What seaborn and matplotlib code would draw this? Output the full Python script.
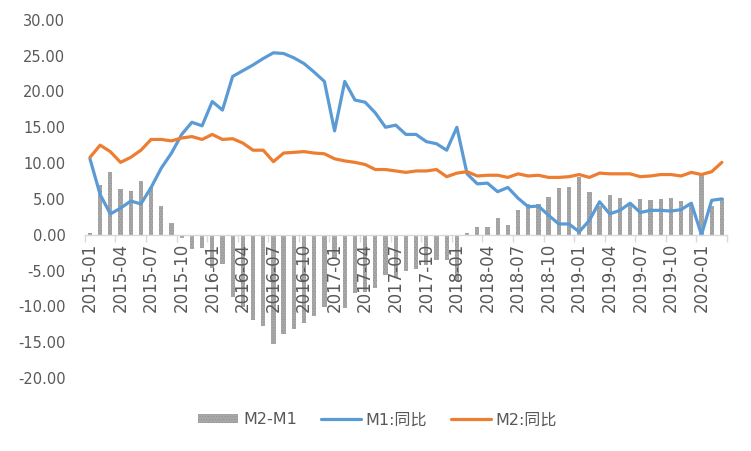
import pandas as pd
import matplotlib
matplotlib.use("Agg")
import matplotlib.pyplot as plt
import seaborn as sns
from matplotlib.patches import Patch
from matplotlib.lines import Line2D

# Mois 2015-01 .. 2020-03
months = [f"{y}-{m:02d}" for y in range(2015, 2021) for m in range(1, 13)][:63]

m1_yoy = [
    10.6, 5.6, 2.9, 3.7, 4.7, 4.3, 6.6, 9.3, 11.4, 14.0, 15.7, 15.2,
    18.6, 17.4, 22.1, 22.9, 23.7, 24.6, 25.4, 25.3, 24.7, 23.9, 22.7, 21.4,
    14.5, 21.4, 18.8, 18.5, 17.0, 15.0, 15.3, 14.0, 14.0, 13.0, 12.7, 11.8,
    15.0, 8.5, 7.1, 7.2, 6.0, 6.6, 5.1, 3.9, 4.0, 2.7, 1.5, 1.5,
    0.4, 2.0, 4.6, 2.9, 3.4, 4.4, 3.1, 3.4, 3.4, 3.3, 3.5, 4.4,
    0.0, 4.8, 5.0,
]
m2_yoy = [
    10.8, 12.5, 11.6, 10.1, 10.8, 11.8, 13.3, 13.3, 13.1, 13.5, 13.7, 13.3,
    14.0, 13.3, 13.4, 12.8, 11.8, 11.8, 10.2, 11.4, 11.5, 11.6, 11.4, 11.3,
    10.6, 10.3, 10.1, 9.8, 9.1, 9.1, 8.9, 8.7, 8.9, 8.9, 9.1, 8.1,
    8.6, 8.8, 8.2, 8.3, 8.3, 8.0, 8.5, 8.2, 8.3, 8.0, 8.0, 8.1,
    8.4, 8.0, 8.6, 8.5, 8.5, 8.5, 8.1, 8.2, 8.4, 8.4, 8.2, 8.7,
    8.4, 8.8, 10.1,
]
m2_m1 = [
    0.2, 6.9, 8.7, 6.4, 6.1, 7.5, 6.7, 4.0, 1.7, -0.5, -2.0, -1.9,
    -4.6, -4.1, -8.7, -10.1, -11.9, -12.8, -15.2, -13.9, -13.2, -12.3, -11.3, -10.1,
    -3.2, -10.3, -8.2, -8.0, -7.4, -5.6, -6.1, -5.1, -4.8, -4.2, -3.6, -3.6,
    -6.4, 0.3, 1.1, 1.1, 2.3, 1.4, 3.4, 4.3, 4.3, 5.3, 6.5, 6.6,
    8.0, 6.0, 4.0, 5.6, 5.1, 4.1, 5.0, 4.8, 5.0, 5.1, 4.7, 4.3,
    8.4, 4.0, 5.1,
]

y_ticks = [30, 25, 20, 15, 10, 5, 0, -5, -10, -15, -20]

BLUE = "#5B9BD5"
ORANGE = "#ED7D31"
GRAY = "#A8A8A8"
HATCH = "#939393"
TXT = "#595959"
AXIS = "#D9D9D9"

sns.set_theme(style="white")
plt.rcParams["font.family"] = ["DejaVu Sans", "Noto Sans CJK SC"]
plt.rcParams["axes.unicode_minus"] = False
plt.rcParams["hatch.linewidth"] = 0.5

df = pd.DataFrame({"mois": months, "idx": range(len(months)),
                   "M1": m1_yoy, "M2": m2_yoy, "M2-M1": m2_m1})

fig = plt.figure(figsize=(7.51, 4.51), dpi=100)
ax = fig.add_axes([0.113, 0.162, 0.855, 0.794])

sns.barplot(data=df, x="idx", y="M2-M1", color=GRAY, width=0.42,
            saturation=1, ax=ax, linewidth=0)
for p in ax.patches:
    p.set_hatch("......")
    p.set_edgecolor(HATCH)
    p.set_linewidth(0)

sns.lineplot(data=df, x="idx", y="M1", color=BLUE, linewidth=2.3, ax=ax)
sns.lineplot(data=df, x="idx", y="M2", color=ORANGE, linewidth=2.3, ax=ax)

# axe des x sur y = 0 (avant de régler les labels, set_position remet les ticks à zéro)
for s in ["top", "right", "left"]:
    ax.spines[s].set_visible(False)
ax.spines["bottom"].set_position(("data", 0))
ax.spines["bottom"].set_color(AXIS)
ax.spines["bottom"].set_linewidth(1)

ax.set_xlim(-0.5, 62.5)
ax.set_ylim(-20, 30)
ax.set_yticks(y_ticks)
ax.set_yticklabels([f"{v:.2f}" for v in y_ticks], fontsize=10.5, color=TXT)
ax.set_xticks(range(0, len(months), 3))
ax.set_xticklabels(months[::3], rotation=90, fontsize=12, color=TXT)
# petites marques entre les catégories, tous les 3 mois
ax.set_xticks([i - 0.5 for i in range(0, len(months) + 1, 3)], minor=True)
ax.set_xlabel("")
ax.set_ylabel("")
ax.tick_params(axis="x", which="major", bottom=True, length=0, pad=6)
ax.tick_params(axis="x", which="minor", bottom=True, length=5, width=1, color=AXIS)
ax.tick_params(axis="y", left=False, pad=8)
ax.grid(False)
ax.set_axisbelow(False)

handles = [
    Patch(facecolor=GRAY, hatch="......", edgecolor=HATCH, linewidth=0),
    Line2D([0], [0], color=BLUE, linewidth=2.3),
    Line2D([0], [0], color=ORANGE, linewidth=2.3),
]
labels = ["M2-M1", "M1:同比", "M2:同比"]
leg = fig.legend(handles, labels, loc="center", bbox_to_anchor=(0.503, 0.069),
                 ncol=3, frameon=False, fontsize=11.5, handlelength=2.5,
                 handleheight=0.5, handletextpad=0.3, columnspacing=1.5)
for t in leg.get_texts():
    t.set_color(TXT)

fig.savefig("out.png", dpi=100)
